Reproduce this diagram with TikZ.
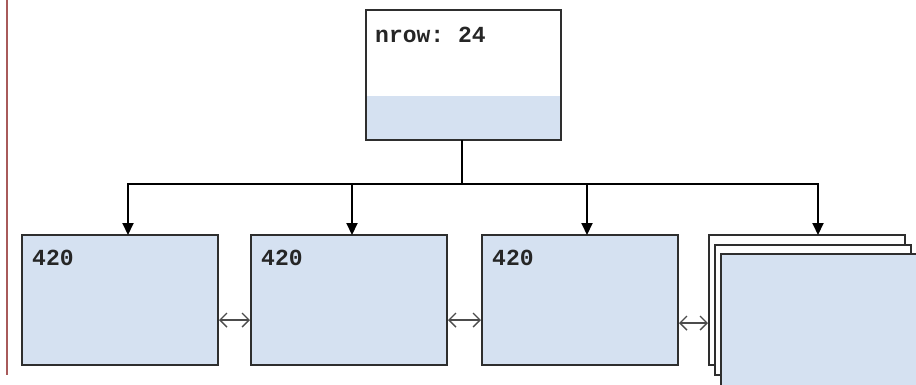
\documentclass[tikz,border=0pt]{standalone}
\usepackage{fontspec}
\setmonofont{Liberation Mono}
\usetikzlibrary{arrows.meta}
\definecolor{cellfill}{HTML}{D5E1F1}
\definecolor{edge}{HTML}{2E2E2E}
\definecolor{margin}{HTML}{A85A5A}
\tikzset{
  x=1pt, y=-1pt,
  cell/.style={draw=edge, line width=1.6pt, fill=cellfill},
  blank/.style={draw=edge, line width=1.6pt, fill=white},
  lbl/.style={anchor=north west, inner sep=0pt, font=\ttfamily\bfseries\fontsize{23}{25}\selectfont, text=black!85},
  trunk/.style={line width=2.4pt},
  feed/.style={line width=2pt, -{Triangle[length=12pt,width=11pt]}},
  link/.style={draw=black!70, line width=1.4pt, {Straight Barb[length=7pt,width=14pt]}-{Straight Barb[length=7pt,width=14pt]}}
}
\begin{document}
\begin{tikzpicture}
\useasboundingbox (0,0) rectangle (916,384);
% margin rule
\draw[margin, line width=1.6pt] (7,0) -- (7,375);

% root node with its shaded lower part
\fill[cellfill] (366,96) rectangle (561,140);
\draw[draw=edge, line width=1.6pt] (366,10) rectangle (561,140);
\node[lbl] (rootlbl) at (375,27) {nrow: 24};
\coordinate (root) at (462,140);

% child cells
\draw[cell] (22,235) rectangle (218,365);
\draw[cell] (251,235) rectangle (447,365);
\draw[cell] (482,235) rectangle (678,365);
\node[lbl] (l1) at (32,250) {420};
\node[lbl] (l2) at (261,250) {420};
\node[lbl] (l3) at (492,250) {420};

% stacked cells
\draw[blank] (709,235) rectangle (905,365);
\draw[blank] (715,245) rectangle (911,375);
\draw[cell] (721,254) rectangle (925,392);

% branch lines
\coordinate (j) at (462,184);
\draw[trunk] (root) -- (j);
\draw[line width=2pt] (127,184) -- (819,184);
\draw[feed] (128,183) -- (128,235);
\draw[feed] (352,183) -- (352,235);
\draw[feed] (587,183) -- (587,235);
\draw[feed] (818,183) -- (818,235);

% sibling links
\draw[link] (219,320) -- (250,320);
\draw[link] (448,320) -- (481,320);
\draw[link] (679,323) -- (708,323);
\end{tikzpicture}
\end{document}
